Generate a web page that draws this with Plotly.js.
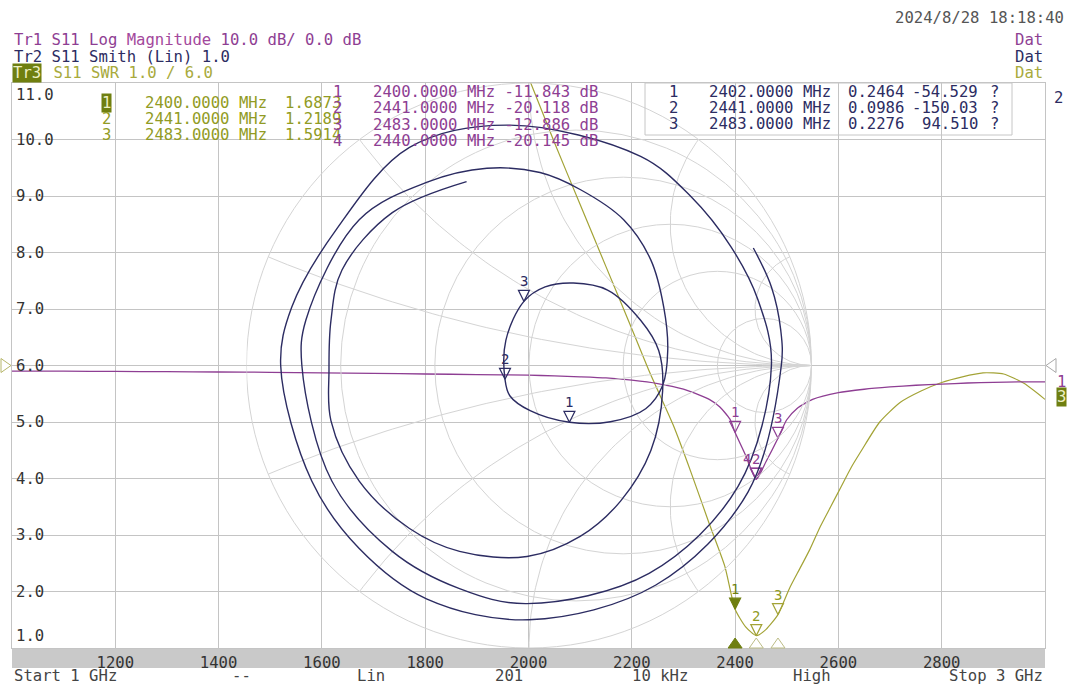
<!DOCTYPE html>
<html><head><meta charset="utf-8">
<script src="https://cdn.plot.ly/plotly-3.0.1.min.js"></script>
<style>html,body{margin:0;padding:0;background:#fff;}#chart{width:1070px;height:686px;}</style>
</head><body><div id="chart"></div>
<script>
// ---------------- DATA ----------------
const xTickVals = [1200, 1400, 1600, 1800, 2000, 2200, 2400, 2600, 2800];
const xTickText = ['1200', '1400', '1600', '1800', '2000', '2200', '2400', '2600', '2800'];
const yTickVals = [1, 2, 3, 4, 5, 6, 7, 8, 9, 10, 11];
const yTickText = ['1.0', '2.0', '3.0', '4.0', '5.0', '6.0', '7.0', '8.0', '9.0', '10.0', '11.0'];

// Tr1: S11 log magnitude (dB)
const lmFreq = [1000, 1100, 1200, 1300, 1400, 1500, 1600, 1700, 1800, 1900, 2000, 2050, 2100, 2150, 2200, 2250, 2300, 2330, 2350, 2370, 2390, 2400, 2420, 2441, 2460, 2483, 2500, 2520, 2550, 2600, 2650, 2700, 2750, 2800, 2850, 2900, 2950, 3000];
const lmDb = [-1.0, -1.0, -1.05, -1.1, -1.15, -1.2, -1.3, -1.4, -1.5, -1.6, -1.7, -1.85, -2.0, -2.2, -2.6, -3.2, -4.2, -5.2, -6.0, -7.3, -9.5, -11.843, -15.8, -20.118, -17.0, -12.886, -9.6, -7.6, -6.0, -4.8, -4.2, -3.8, -3.5, -3.3, -3.1, -3.0, -2.9, -2.9];

// Tr3: SWR
const swrFreq = [2000, 2050, 2100, 2150, 2200, 2235, 2280, 2315, 2350, 2380, 2400, 2420, 2441, 2460, 2483, 2505, 2525, 2545, 2565, 2585, 2605, 2625, 2645, 2680, 2720, 2760, 2800, 2840, 2880, 2920, 2960, 3000];
const swrVal = [11.1, 9.95, 8.85, 7.75, 6.65, 5.87, 4.95, 4.1, 3.2, 2.45, 1.687, 1.38, 1.219, 1.33, 1.591, 2.05, 2.4, 2.75, 3.15, 3.5, 3.85, 4.2, 4.5, 5.0, 5.35, 5.55, 5.7, 5.8, 5.87, 5.85, 5.68, 5.4];

// Tr2: S11 Smith chart, reflection coefficient (real, imag), sweep order
const smithRe = [0.794, 0.858, 0.891, 0.893, 0.775, 0.449, 0.000, -0.363, -0.601, -0.769, -0.879, -0.840, -0.683, -0.423, -0.068, 0.395, 0.573, 0.715, 0.811, 0.858, 0.740, 0.425, -0.007, -0.246, -0.484, -0.698, -0.804, -0.790, -0.601, -0.363, -0.149, 0.039, 0.181, 0.335, 0.431, 0.477, 0.491, 0.473, 0.413, 0.288, 0.143, 0.004, -0.068, -0.085, -0.082, -0.018, 0.057, 0.157, 0.278, 0.395, 0.459, 0.473, 0.431, 0.324, 0.181, -0.007, -0.246, -0.423, -0.601, -0.701, -0.708, -0.701, -0.662, -0.484, -0.221];
const smithIm = [0.416, 0.278, 0.125, 0.000, -0.448, -0.777, -0.900, -0.826, -0.648, -0.409, 0.000, 0.206, 0.480, 0.772, 0.851, 0.740, 0.598, 0.420, 0.231, 0.000, -0.428, -0.736, -0.843, -0.790, -0.658, -0.409, 0.000, 0.160, 0.516, 0.648, 0.698, 0.683, 0.623, 0.516, 0.374, 0.206, 0.053, -0.071, -0.153, -0.199, -0.201, -0.160, -0.107, -0.049, 0.089, 0.227, 0.278, 0.292, 0.267, 0.160, 0.053, -0.089, -0.302, -0.480, -0.605, -0.676, -0.658, -0.577, -0.409, -0.196, -0.018, 0.160, 0.338, 0.541, 0.651];

// markers
const lmMkFreq = [2400, 2441, 2483, 2440];
const lmMkDb = [-11.843, -20.118, -12.886, -20.145];
const lmMkLabel = ['1', '2', '3', '4'];
const swrMkFreq = [2400, 2441, 2483];
const swrMkVal = [1.6873, 1.2189, 1.5914];
const swrMkLabel = ['1', '2', '3'];
const smMkFreq = [2402, 2441, 2483];
const smMkMag = [0.2464, 0.0986, 0.2276];
const smMkAng = ['-54.529', '-150.03', '94.510'];
const smMkRe = [0.143, -0.085, -0.018];
const smMkIm = [-0.201, -0.049, 0.227];
const smMkLabel = ['1', '2', '3'];

// ---------------- STYLE / LAYOUT ----------------
const PURPLE = '#8e3e93', NAVY = '#2c2c62', OLIVE = '#a3a336', OLIVE_T = '#919b24', OLIVE_D = '#6f7f10';
const GRID = '#c4c4c4', SGRID = '#d4d4d4', TXT = '#333333';
const FONT = 'DejaVu Sans Mono', FS = 15.6;
const L = 12, R = 1045, T = 83, B = 648;
const fx = px => (px - L) / (R - L);
const fy = py => (B - py) / (B - T);

const traces = [];
// Smith chart grid: reactance arcs (grid geometry only)
const gridVals = [0.2, 0.5, 1, 2, 5];
for (const sgn of [1, -1]) {
  for (const xv0 of gridVals) {
    const xv = sgn * xv0;
    const cy = 1 / xv, rho = 1 / xv0;
    const px = (xv * xv - 1) / (xv * xv + 1), py = 2 * xv / (xv * xv + 1);
    const a0 = sgn > 0 ? -Math.PI / 2 : Math.PI / 2;
    let a1 = Math.atan2(py - cy, px - 1);
    if (sgn > 0 && a1 > a0) a1 -= 2 * Math.PI;
    if (sgn < 0 && a1 < a0) a1 += 2 * Math.PI;
    const gx = [], gy = [];
    for (let k = 0; k <= 80; k++) {
      const a = a0 + (a1 - a0) * k / 80;
      gx.push(1 + rho * Math.cos(a)); gy.push(cy + rho * Math.sin(a));
    }
    traces.push({type: 'scatter', mode: 'lines', x: gx, y: gy, xaxis: 'x2', yaxis: 'y2',
      line: {color: SGRID, width: 1}, hoverinfo: 'skip', showlegend: false});
  }
}

// Tr2 Smith trace
traces.push({type: 'scatter', mode: 'lines', x: smithRe, y: smithIm, xaxis: 'x2', yaxis: 'y2',
  line: {color: NAVY, width: 1.4, shape: 'spline', smoothing: 1}, hoverinfo: 'skip', showlegend: false});
// Tr1 log mag
traces.push({type: 'scatter', mode: 'lines', x: lmFreq, y: lmDb, xaxis: 'x', yaxis: 'y3',
  line: {color: PURPLE, width: 1.3, shape: 'spline', smoothing: 0.6}, hoverinfo: 'skip', showlegend: false});
// Tr3 SWR
traces.push({type: 'scatter', mode: 'lines', x: swrFreq, y: swrVal, xaxis: 'x', yaxis: 'y',
  line: {color: OLIVE, width: 1.2, shape: 'spline', smoothing: 0.6}, hoverinfo: 'skip', showlegend: false});

// markers
traces.push({type: 'scatter', mode: 'markers', x: lmMkFreq, y: lmMkDb, xaxis: 'x', yaxis: 'y3',
  marker: {symbol: 'arrow-down-open', size: 11, color: PURPLE, line: {color: PURPLE, width: 1.2}}, hoverinfo: 'skip', showlegend: false});
traces.push({type: 'scatter', mode: 'markers', x: swrMkFreq, y: swrMkVal, xaxis: 'x', yaxis: 'y',
  marker: {symbol: ['arrow-down', 'arrow-down-open', 'arrow-down-open'], size: 11,
    color: [OLIVE_D, OLIVE, OLIVE], line: {color: [OLIVE_D, OLIVE, OLIVE], width: 1.2}}, hoverinfo: 'skip', showlegend: false});
traces.push({type: 'scatter', mode: 'markers', x: smMkRe, y: smMkIm, xaxis: 'x2', yaxis: 'y2',
  marker: {symbol: 'arrow-down-open', size: 11, color: NAVY, line: {color: NAVY, width: 1.2}}, hoverinfo: 'skip', showlegend: false});

// ---------------- shapes ----------------
const shapes = [];
// grey frequency bar
shapes.push({type: 'rect', xref: 'paper', yref: 'paper', x0: 0, x1: 1, y0: fy(668), y1: 0,
  fillcolor: '#c9c9c9', line: {width: 0}, layer: 'below'});
// Smith outer circle and resistance circles
shapes.push({type: 'circle', xref: 'x2', yref: 'y2', x0: -1, x1: 1, y0: -1, y1: 1, line: {color: SGRID, width: 1}, layer: 'below'});
for (const r of gridVals) {
  shapes.push({type: 'circle', xref: 'x2', yref: 'y2', x0: (r - 1) / (r + 1), x1: 1, y0: -1 / (1 + r), y1: 1 / (1 + r),
    line: {color: SGRID, width: 1}, layer: 'below'});
}
// Tr2 marker table frame
shapes.push({type: 'rect', xref: 'paper', yref: 'paper', x0: fx(645), x1: fx(1012), y0: fy(135), y1: 1,
  line: {color: '#c6c6c6', width: 1}, fillcolor: 'rgba(0,0,0,0)'});
// reference position triangles at 6.0
shapes.push({type: 'path', xref: 'paper', yref: 'y', xsizemode: 'pixel', ysizemode: 'pixel', xanchor: 0, yanchor: 6,
  path: 'M-11,7 L-11,-7 L-1,0 Z', line: {color: '#b6b66a', width: 1}, fillcolor: 'rgba(0,0,0,0)'});
shapes.push({type: 'path', xref: 'paper', yref: 'y', xsizemode: 'pixel', ysizemode: 'pixel', xanchor: 1, yanchor: 6,
  path: 'M1,0 L11,7 L11,-7 Z', line: {color: '#a8a8a8', width: 1}, fillcolor: 'rgba(0,0,0,0)'});
// marker position indicators on the frequency bar
swrMkFreq.forEach((f, i) => {
  shapes.push({type: 'path', xref: 'x', yref: 'paper', xsizemode: 'pixel', ysizemode: 'pixel', xanchor: f, yanchor: 0,
    path: 'M-7,0 L7,0 L0,10 Z', line: {color: i === 0 ? OLIVE_D : '#bcbc86', width: 1},
    fillcolor: i === 0 ? OLIVE_D : 'rgba(255,255,255,0.6)'});
});

// ---------------- annotations ----------------
const ann = [];
function A(px, py, text, color, xanchor, extra) {
  ann.push(Object.assign({xref: 'paper', yref: 'paper', x: fx(px), y: fy(py), text: text, showarrow: false,
    xanchor: xanchor || 'left', yanchor: 'middle', font: {family: FONT, size: FS, color: color}}, extra || {}));
}
// header
A(12, 40, 'Tr1 S11 Log <span style="color:#a3489c">Magnitude</span> 10.0 dB/ 0.0 dB', PURPLE);
A(12, 57, 'Tr2 S11 Smith (Lin) 1.0', NAVY);
A(12, 73, 'Tr3', '#eef0c4', 'left', {bgcolor: OLIVE_D, borderpad: 0});
A(42, 73, ' S11 SWR 1.0 / 6.0', '#a8aa3c');
A(1066, 18, '2024/8/28 18:18:40', '#555555', 'right');
A(1045, 40, 'Dat', PURPLE, 'right');
A(1045, 57, 'Dat', NAVY, 'right');
A(1045, 73, 'Dat', '#a8aa3c', 'right');

// y tick labels
yTickVals.forEach((v, i) => {
  ann.push({xref: 'paper', yref: 'y', x: fx(14), y: v, text: yTickText[i], showarrow: false, xanchor: 'left',
    yanchor: v === 11 ? 'top' : (v === 1 ? 'bottom' : 'middle'), yshift: v === 11 ? -1 : (v === 1 ? 1 : 0),
    font: {family: FONT, size: FS, color: TXT}});
});

// Tr3 (SWR) marker table
const rowsA = [103, 119, 135];
swrMkFreq.forEach((f, i) => {
  if (i === 0) A(106, rowsA[i], swrMkLabel[i], '#eef0c4', 'center', {bgcolor: OLIVE_D, borderpad: 0});
  else A(106, rowsA[i], swrMkLabel[i], OLIVE_T, 'center');
  A(143, rowsA[i], f.toFixed(4) + ' MHz', OLIVE_T);
  A(283, rowsA[i], swrMkVal[i].toFixed(4), OLIVE_T);
});
// Tr1 (log mag) marker table
const rowsB = [92, 108, 125, 141];
lmMkFreq.forEach((f, i) => {
  A(337, rowsB[i], lmMkLabel[i], PURPLE, 'center');
  A(371, rowsB[i], f.toFixed(4) + ' MHz ' + lmMkDb[i].toFixed(3) + ' dB', PURPLE);
});
// Tr2 (Smith) marker table
const rowsC = [92, 108, 124];
smMkFreq.forEach((f, i) => {
  A(673, rowsC[i], smMkLabel[i], NAVY, 'center');
  A(707, rowsC[i], f.toFixed(4) + ' MHz', NAVY);
  A(846, rowsC[i], smMkMag[i].toFixed(4), NAVY);
  A(980, rowsC[i], smMkAng[i], NAVY, 'right');
  A(988, rowsC[i], '?', NAVY);
});
A(1058, 98, '2', NAVY, 'center');
A(1061, 382, '1', PURPLE, 'center');
A(1061, 397, '3', '#eef0c4', 'center', {bgcolor: OLIVE_D, borderpad: 0});

// marker labels on the traces
lmMkFreq.forEach((f, i) => {
  ann.push({xref: 'x', yref: 'y3', x: f, y: lmMkDb[i], text: lmMkLabel[i], showarrow: false, xanchor: 'center',
    yanchor: 'bottom', yshift: 10, xshift: i === 3 ? -9 : 0, font: {family: FONT, size: 14, color: PURPLE}});
});
swrMkFreq.forEach((f, i) => {
  ann.push({xref: 'x', yref: 'y', x: f, y: swrMkVal[i], text: swrMkLabel[i], showarrow: false, xanchor: 'center',
    yanchor: 'bottom', yshift: 10, font: {family: FONT, size: 14, color: i === 0 ? OLIVE_D : OLIVE_T}});
});
smMkRe.forEach((re, i) => {
  ann.push({xref: 'x2', yref: 'y2', x: re, y: smMkIm[i], text: smMkLabel[i], showarrow: false, xanchor: 'center',
    yanchor: 'bottom', yshift: 10, font: {family: FONT, size: 14, color: NAVY}});
});

// bottom status line
A(12, 676, 'Start 1 GHz', '#444444');
A(241, 676, '--', '#444444', 'center');
A(371, 676, 'Lin', '#444444', 'center');
A(509, 676, '201', '#444444', 'center');
A(660, 676, '10 kHz', '#444444', 'center');
A(812, 676, 'High', '#444444', 'center');
A(1045, 676, 'Stop 3 GHz', '#444444', 'right');

const layout = {
  width: 1070, height: 686,
  margin: {l: L, r: 1070 - R, t: T, b: 686 - B, pad: 0},
  paper_bgcolor: '#ffffff', plot_bgcolor: 'rgba(0,0,0,0)',
  showlegend: false, hovermode: false,
  font: {family: FONT, size: FS, color: TXT},
  xaxis: {domain: [0, 1], range: [1000, 3000], tickvals: xTickVals, ticktext: xTickText, showgrid: true, gridcolor: GRID,
    gridwidth: 1, zeroline: false, showline: true, mirror: true, linecolor: GRID, ticks: '', anchor: 'y',
    tickfont: {family: FONT, size: FS, color: TXT}, fixedrange: true},
  yaxis: {domain: [0, 1], range: [1, 11], tickvals: [2, 3, 4, 5, 6, 7, 8, 9, 10], showticklabels: false, showgrid: true,
    gridcolor: GRID, gridwidth: 1, zeroline: false, showline: true, mirror: true, linecolor: GRID, ticks: '', anchor: 'x', fixedrange: true},
  yaxis3: {overlaying: 'y', anchor: 'x', range: [-50, 50], visible: false, fixedrange: true},
  xaxis2: {domain: [0.2270, 0.7740], range: [-1, 1], visible: false, anchor: 'y2', fixedrange: true},
  yaxis2: {domain: [0, 1], range: [-1, 1], visible: false, anchor: 'x2', fixedrange: true},
  shapes: shapes,
  annotations: ann
};

Plotly.newPlot('chart', traces, layout, {staticPlot: true, displayModeBar: false});
</script>
</body></html>
